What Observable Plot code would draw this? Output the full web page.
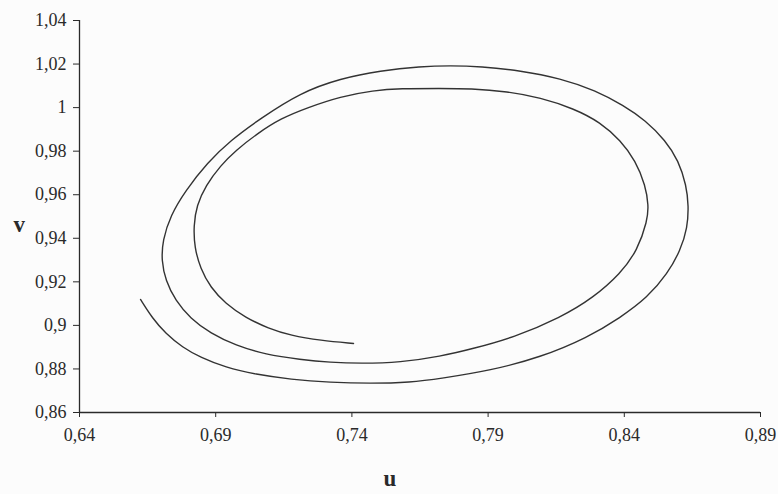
<!DOCTYPE html>
<html>
<head>
<meta charset="utf-8">
<script src="https://cdn.jsdelivr.net/npm/d3@7"></script>
<script src="https://cdn.jsdelivr.net/npm/@observablehq/plot@0.6"></script>
<style>
  html, body { margin: 0; padding: 0; background: #fcfcfc; }
  #chart { width: 778px; height: 494px; }
</style>
</head>
<body>
<div id="chart"></div>
<script>
// Phase trajectory (u, v), in the order it is traced: spiralling inward
const u = [
  0.6624, 0.6668, 0.6716, 0.6778, 0.6844, 0.6936, 0.7046, 0.7175, 0.7321, 0.7468,
  0.7615, 0.7725, 0.7909, 0.8092, 0.8265, 0.8386, 0.8485, 0.8559, 0.8606, 0.8632,
  0.8636, 0.8628, 0.8599, 0.8551, 0.8478, 0.8397, 0.8294, 0.8166, 0.8019, 0.7872,
  0.7762, 0.7652, 0.7505, 0.7358, 0.7211, 0.7064, 0.6954, 0.6870, 0.6789, 0.6734,
  0.6705, 0.6701, 0.6716, 0.6752, 0.6807, 0.6881, 0.6973, 0.7083, 0.7211, 0.7321,
  0.7432, 0.7578, 0.7725, 0.7846, 0.7993, 0.8166, 0.8287, 0.8386, 0.8448, 0.8485,
  0.8489, 0.8478, 0.8441, 0.8386, 0.8313, 0.8214, 0.8092, 0.7971, 0.7835, 0.7725,
  0.7578, 0.7479, 0.7358, 0.7237, 0.7138, 0.7053, 0.6973, 0.6918, 0.6863, 0.6830,
  0.6819, 0.6822, 0.6844, 0.6881, 0.6936, 0.7009, 0.7094, 0.7175, 0.7285, 0.7406
];
const v = [
  0.9119, 0.9032, 0.8963, 0.8899, 0.8853, 0.8807, 0.8775, 0.8752, 0.8738, 0.8733,
  0.8738, 0.8756, 0.8793, 0.8853, 0.8944, 0.9036, 0.9128, 0.9238, 0.9344, 0.9449,
  0.9550, 0.9642, 0.9757, 0.9849, 0.9941, 1.0010, 1.0079, 1.0134, 1.0170, 1.0189,
  1.0193, 1.0189, 1.0170, 1.0134, 1.0069, 0.9950, 0.9849, 0.9748, 0.9619, 0.9505,
  0.9390, 0.9298, 0.9206, 0.9114, 0.9032, 0.8963, 0.8908, 0.8866, 0.8843, 0.8830,
  0.8825, 0.8830, 0.8857, 0.8894, 0.8944, 0.9036, 0.9128, 0.9238, 0.9344, 0.9482,
  0.9550, 0.9642, 0.9757, 0.9849, 0.9932, 0.9996, 1.0046, 1.0074, 1.0088, 1.0088,
  1.0088, 1.0079, 1.0051, 1.0000, 0.9950, 0.9881, 0.9803, 0.9734, 0.9642, 0.9550,
  0.9459, 0.9358, 0.9261, 0.9174, 0.9100, 0.9036, 0.8986, 0.8954, 0.8931, 0.8917
];

// Axis ticks and their labels (decimal comma)
const xTicks = [0.64, 0.69, 0.74, 0.79, 0.84, 0.89];
const xTickLabels = ["0,64", "0,69", "0,74", "0,79", "0,84", "0,89"];
const yTicks = [0.86, 0.88, 0.90, 0.92, 0.94, 0.96, 0.98, 1.00, 1.02, 1.04];
const yTickLabels = ["0,86", "0,88", "0,9", "0,92", "0,94", "0,96", "0,98", "1", "1,02", "1,04"];

const xTitle = "u";
const yTitle = "v";

const points = u.map((d, i) => ({u: d, v: v[i]}));
const ink = "#2a2a2a";

const chart = Plot.plot({
  width: 778,
  height: 494,
  marginLeft: 79,
  marginRight: 18,
  marginTop: 20,
  marginBottom: 82,
  style: {
    fontFamily: "'Liberation Serif', 'Times New Roman', serif",
    fontSize: "18px",
    color: ink,
    background: "#fcfcfc"
  },
  x: {domain: [0.64, 0.89]},
  y: {domain: [0.86, 1.04]},
  marks: [
    Plot.axisX({
      ticks: xTicks,
      tickFormat: d => xTickLabels[xTicks.indexOf(d)],
      tickSize: 5,
      tickPadding: 11,
      label: null,
      stroke: ink
    }),
    Plot.axisY({
      ticks: yTicks,
      tickFormat: d => yTickLabels[yTicks.indexOf(d)],
      tickSize: 6,
      tickPadding: 7,
      label: null,
      stroke: ink
    }),
    Plot.ruleX([0.64], {stroke: ink, strokeWidth: 1.3}),
    Plot.ruleY([0.86], {stroke: ink, strokeWidth: 1.3}),
    Plot.line(points, {
      x: "u",
      y: "v",
      curve: "basis",
      stroke: "#333",
      strokeWidth: 1.4
    }),
    Plot.text([yTitle], {
      frameAnchor: "left",
      dx: -66,
      dy: 8,
      fontWeight: "bold",
      fontSize: 23,
      fill: ink
    }),
    Plot.text([xTitle], {
      frameAnchor: "bottom",
      dx: -30,
      dy: 73,
      fontWeight: "bold",
      fontSize: 23,
      fill: ink
    })
  ]
});

document.getElementById("chart").appendChild(chart);
</script>
</body>
</html>
